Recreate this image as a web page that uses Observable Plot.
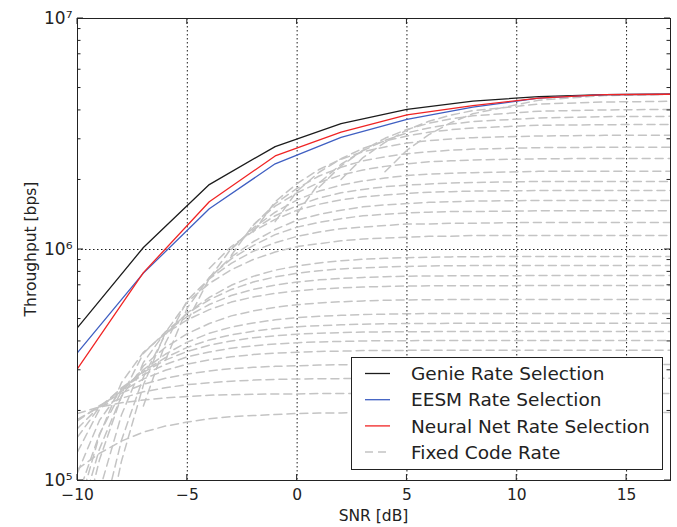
<!DOCTYPE html>
<html><head><meta charset="utf-8">
<script src="https://cdn.jsdelivr.net/npm/d3@7"></script>
<script src="https://cdn.jsdelivr.net/npm/@observablehq/plot@0.6"></script>
<style>
html,body{margin:0;padding:0;background:#fff;}
#chart{width:677px;height:527px;}
</style></head><body><div id="chart"></div>
<script>
// ---- data (throughput in Mbps) ----
const mainSnr = [-10, -7, -4, -1, 2, 5, 8, 11, 14, 17];
const genie     = [0.459, 1.02, 1.91, 2.79, 3.51, 4.04, 4.39, 4.59, 4.68, 4.70];
const eesm      = [0.358, 0.79, 1.50, 2.35, 3.06, 3.66, 4.13, 4.52, 4.68, 4.70];
const neuralNet = [0.305, 0.794, 1.61, 2.54, 3.22, 3.83, 4.20, 4.52, 4.68, 4.70];

const fixedSnr = [-10,-9,-8,-7,-6,-5,-4,-3,-2,-1,0,1,2,3,4,5,6,7,8,11,14,17];
const fixedCodeRate = [
 [null,null,null,null,null,null,null,null,null,null,null,null,null,null,2.17,2.69,3.14,3.54,3.87,4.43,4.64,4.70],
 [null,null,null,null,null,null,null,null,null,null,null,null,2.01,2.50,2.91,3.29,3.59,3.82,3.99,4.26,4.35,4.38],
 [null,null,null,null,null,null,null,null,null,null,null,1.86,2.30,2.69,3.03,3.31,3.52,3.68,3.79,3.97,4.02,4.04],
 [null,null,null,null,null,null,null,null,null,null,1.43,1.94,2.34,2.68,2.97,3.20,3.36,3.49,3.58,3.71,3.76,3.77],
 [null,null,null,null,null,null,null,null,null,1.32,1.79,2.16,2.47,2.74,2.95,3.10,3.22,3.30,3.36,3.45,3.47,3.48],
 [null,null,null,null,null,null,null,null,1.19,1.61,1.93,2.22,2.46,2.65,2.78,2.89,2.96,3.01,3.05,3.10,3.12,3.12],
 [null,null,null,null,null,null,null,null,1.27,1.58,1.84,2.08,2.27,2.42,2.52,2.60,2.65,2.69,2.72,2.76,2.77,2.77],
 [null,null,null,null,null,null,null,0.942,1.28,1.54,1.76,1.95,2.10,2.21,2.29,2.35,2.40,2.42,2.44,2.47,2.48,2.48],
 [null,null,null,null,null,null,null,1.00,1.24,1.45,1.64,1.79,1.90,1.98,2.04,2.09,2.12,2.14,2.15,2.18,2.18,2.18],
 [null,null,null,null,null,null,0.749,1.01,1.22,1.40,1.55,1.67,1.76,1.82,1.87,1.90,1.92,1.94,1.95,1.97,1.97,1.97],
 [null,null,null,null,null,null,0.828,1.03,1.20,1.35,1.48,1.57,1.64,1.69,1.72,1.75,1.77,1.78,1.79,1.80,1.80,1.80],
 [null,null,null,null,null,0.489,0.750,0.929,1.08,1.22,1.34,1.42,1.48,1.53,1.56,1.58,1.60,1.61,1.62,1.63,1.63,1.63],
 [null,null,null,null,0.331,0.559,0.757,0.911,1.04,1.16,1.25,1.31,1.36,1.40,1.42,1.44,1.45,1.46,1.46,1.47,1.47,1.47],
 [null,null,null,0.210,0.393,0.603,0.747,0.871,0.983,1.07,1.14,1.19,1.23,1.25,1.27,1.29,1.29,1.30,1.30,1.31,1.31,1.31],
 [null,0.043,0.121,0.259,0.437,0.592,0.713,0.817,0.905,0.975,1.03,1.06,1.09,1.11,1.12,1.13,1.14,1.14,1.15,1.15,1.15,1.15],
 [null,0.061,0.149,0.280,0.429,0.532,0.620,0.700,0.765,0.814,0.849,0.875,0.894,0.907,0.916,0.922,0.926,0.929,0.931,0.933,0.933,0.933],
 [null,0.090,0.192,0.324,0.439,0.529,0.606,0.671,0.723,0.761,0.789,0.810,0.824,0.833,0.840,0.845,0.849,0.850,0.852,0.853,0.853,0.853],
 [0.050,0.123,0.231,0.355,0.439,0.513,0.578,0.632,0.672,0.702,0.723,0.739,0.749,0.757,0.762,0.766,0.768,0.769,0.770,0.771,0.771,0.771],
 [0.073,0.157,0.265,0.359,0.433,0.496,0.549,0.592,0.623,0.646,0.662,0.674,0.682,0.688,0.692,0.695,0.696,0.697,0.697,0.698,0.698,0.698],
 [0.064,0.137,0.231,0.313,0.377,0.432,0.478,0.516,0.542,0.562,0.577,0.587,0.594,0.599,0.603,0.605,0.606,0.607,0.607,0.608,0.608,0.608],
 [0.085,0.159,0.243,0.302,0.352,0.397,0.434,0.461,0.481,0.496,0.507,0.514,0.519,0.523,0.525,0.527,0.528,0.528,0.529,0.529,0.529,0.529],
 [0.108,0.182,0.247,0.297,0.340,0.377,0.406,0.427,0.443,0.455,0.463,0.468,0.472,0.475,0.477,0.478,0.478,0.479,0.479,0.479,0.479,0.479],
 [0.133,0.203,0.252,0.294,0.332,0.362,0.385,0.402,0.415,0.423,0.430,0.434,0.437,0.439,0.440,0.441,0.441,0.442,0.442,0.442,0.442,0.442],
 [0.154,0.208,0.250,0.287,0.318,0.343,0.360,0.374,0.383,0.390,0.395,0.398,0.400,0.402,0.403,0.403,0.404,0.404,0.404,0.404,0.404,0.404],
 [0.168,0.209,0.243,0.275,0.300,0.319,0.333,0.343,0.351,0.356,0.359,0.362,0.363,0.365,0.365,0.366,0.366,0.366,0.366,0.366,0.366,0.366],
 [0.181,0.211,0.239,0.261,0.277,0.289,0.298,0.305,0.309,0.312,0.314,0.316,0.317,0.317,0.318,0.318,0.318,0.318,0.318,0.318,0.318,0.318],
 [0.184,0.208,0.227,0.242,0.252,0.260,0.265,0.269,0.272,0.274,0.275,0.276,0.276,0.277,0.277,0.277,0.277,0.277,0.277,0.277,0.277,0.277],
 [0.195,0.208,0.217,0.223,0.228,0.231,0.234,0.235,0.236,0.237,0.237,0.238,0.238,0.238,0.238,0.238,0.238,0.238,0.238,0.238,0.238,0.238],
 [0.112,0.131,0.148,0.162,0.172,0.179,0.185,0.189,0.191,0.193,0.195,0.196,0.196,0.197,0.197,0.197,0.197,0.197,0.197,0.197,0.197,0.197]
];

const xTicks = [-10, -5, 0, 5, 10, 15];
const yTicks = [1e5, 1e6, 1e7];
const yMinorTicks = [2e5,3e5,4e5,5e5,6e5,7e5,8e5,9e5,2e6,3e6,4e6,5e6,6e6,7e6,8e6,9e6];
const legendLabels = ["Genie Rate Selection", "EESM Rate Selection", "Neural Net Rate Selection", "Fixed Code Rate"];
const xTitle = "SNR [dB]";
const yTitle = "Throughput [bps]";

// ---- styles ----
const lineColors = ["#1c1c1c", "#3f5fc2", "#f02424"];
const grayColor = "#c4c4c4";
const grayDash = "8,5";
const FONT = "'DejaVu Sans', Verdana, sans-serif";

// ---- tables ----
const fixedRows = [];
fixedCodeRate.forEach((vals, i) => vals.forEach((v, j) => {
  if (v != null) fixedRows.push({curve: i, snr: fixedSnr[j], tp: v * 1e6});
}));
const series = [genie, eesm, neuralNet];
const mainRows = series.flatMap((vals, k) => mainSnr.map((s, j) => ({method: legendLabels[k], snr: s, tp: vals[j] * 1e6})));

const supDigits = {"5": "\u2075", "6": "\u2076", "7": "\u2077"};
const gridStyle = {stroke: "#111", strokeOpacity: 0.95, strokeWidth: 1, strokeDasharray: "1.5,2.5"};

const chart = Plot.plot({
  width: 677, height: 527,
  marginLeft: 77, marginRight: 7, marginTop: 18, marginBottom: 47,
  style: {fontFamily: FONT, fontSize: "15px", color: "#222", background: "#fff"},
  x: {domain: [-10, 17], label: null},
  y: {type: "log", domain: [1e5, 1e7], label: null},
  color: {domain: legendLabels.slice(0, 3), range: lineColors},
  marks: [
    Plot.gridX(xTicks.slice(1), gridStyle),
    Plot.gridY([1e6], gridStyle),
    Plot.line(fixedRows, {x: "snr", y: "tp", z: "curve", stroke: grayColor, strokeWidth: 1.5, strokeDasharray: grayDash, clip: true}),
    Plot.line(mainRows, {x: "snr", y: "tp", z: "method", stroke: "method", strokeWidth: 1.3, clip: true}),
    Plot.axisX(xTicks, {tickSize: 0, tickPadding: 8, fontSize: 15.5, label: null,
      tickFormat: d => d < 0 ? "\u2212" + Math.abs(d) : String(d)}),
    Plot.axisY(yTicks, {tickSize: 0, tickPadding: 5, fontSize: 17, label: null,
      tickFormat: d => "10" + supDigits[String(Math.round(Math.log10(d)))]}),
    Plot.frame({stroke: "#222", strokeWidth: 1})
  ]
});
document.getElementById("chart").appendChild(chart);

// ---- inward ticks, titles and legend drawn with the plot's scales ----
const xs = chart.scale("x"), ys = chart.scale("y");
const svg = d3.select(chart);
const xL = xs.apply(-10), xR = xs.apply(17), yB = ys.apply(1e5), yT = ys.apply(1e7);
const tg = svg.append("g").attr("stroke", "#222").attr("stroke-width", 1);
const seg = (x1, y1, x2, y2) => tg.append("line").attr("x1", x1).attr("y1", y1).attr("x2", x2).attr("y2", y2);
xTicks.forEach(t => { const p = xs.apply(t); seg(p, yB, p, yB - 6); seg(p, yT, p, yT + 6); });
yTicks.forEach(t => { const p = ys.apply(t); seg(xL, p, xL + 6, p); seg(xR, p, xR - 6, p); });
yMinorTicks.forEach(t => { const p = ys.apply(t); seg(xL, p, xL + 3.5, p); seg(xR, p, xR - 3.5, p); });

svg.append("text").attr("x", (xL + xR) / 2).attr("y", 521).attr("text-anchor", "middle")
  .attr("font-family", FONT).attr("font-size", 15.5).attr("fill", "#222").text(xTitle);
svg.append("text").attr("transform", `translate(31,${(yB + yT) / 2}) rotate(-90)`).attr("text-anchor", "middle")
  .attr("dy", "0.35em").attr("font-family", FONT).attr("font-size", 15.5).attr("fill", "#222").text(yTitle);

const lg = svg.append("g");
lg.append("rect").attr("x", 351.5).attr("y", 357.5).attr("width", 311).attr("height", 112)
  .attr("fill", "#fff").attr("stroke", "#222").attr("stroke-width", 1);
legendLabels.forEach((lab, i) => {
  const cy = 373.5 + i * 26.2;
  lg.append("line").attr("x1", 365).attr("x2", 390).attr("y1", cy).attr("y2", cy)
    .attr("stroke", i < 3 ? lineColors[i] : grayColor).attr("stroke-width", i < 3 ? 1.3 : 1.5)
    .attr("stroke-dasharray", i < 3 ? null : grayDash);
  lg.append("text").attr("x", 411).attr("y", cy).attr("dy", "0.36em").attr("text-anchor", "start")
    .attr("font-family", FONT).attr("font-size", 18.5).attr("fill", "#222").text(lab);
});
</script>
</body></html>
